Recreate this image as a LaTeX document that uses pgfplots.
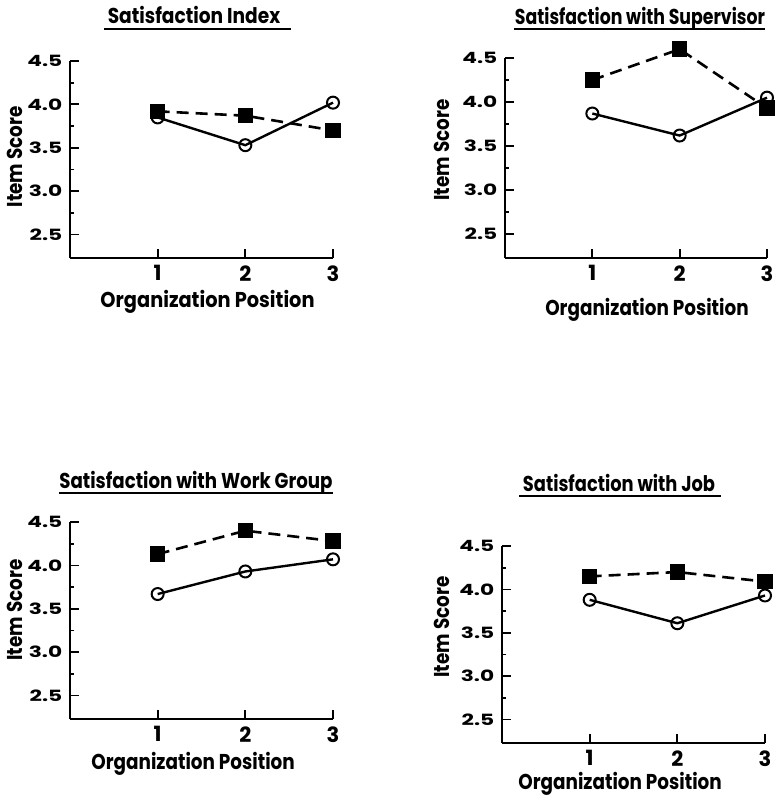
\documentclass[border=0pt]{standalone}
\usepackage{pgfplots}
\pgfplotsset{compat=1.18}
\usepackage{graphicx}
\usepackage{fontspec}
\setmainfont{Poppins}
\newcommand{\lab}[1]{\scalebox{0.855}[1]{#1}}
\pgfplotsset{
  panel/.style={
    scale only axis, width=263pt, height=197pt,
    xmin=0, xmax=3, ymin=2.23, ymax=4.5,
    axis lines=left, axis line style={line width=2.2pt,-},
    xtick={1,2,3}, ytick={2.5,3,3.5,4,4.5},
    minor ytick={2.75,3.25,3.75,4.25},
    tick align=inside,
    major tick length=9pt, minor tick length=4pt,
    every tick/.style={black, line width=1.8pt},
    clip=false,
    /pgf/number format/assume math mode=true,
    yticklabel style={/pgf/number format/fixed,/pgf/number format/fixed zerofill,/pgf/number format/precision=1,
      font=\bfseries\fontsize{15.5}{15.5}\selectfont, xscale=1.4, xshift=-2pt},
    xticklabel style={font=\bfseries\fontsize{21}{21}\selectfont, yshift=-4pt},
    label style={font=\bfseries\fontsize{21.5}{21.5}\selectfont},
    xlabel={\lab{Organization Position}}, ylabel={\lab{Item Score}},
  },
  solidser/.style={black, line width=2.4pt, mark=o, mark size=6pt, mark options={solid, fill=white, line width=2pt}},
  dashser/.style={black, line width=2.6pt, dash pattern=on 12pt off 7pt, mark=square*, mark size=6.5pt, mark options={solid}},
}
\begin{document}
\begin{tikzpicture}[x=1pt,y=1pt]
\path[use as bounding box] (0,0) rectangle (779,-801);
% Panel 1
\begin{axis}[panel, at={(70pt,-258pt)}, anchor=south west,
  xlabel={\scalebox{0.9}[1]{Organization Position}},
  xlabel style={at={(axis description cs:0.523,-0.22)}, anchor=center},
  ylabel style={at={(axis description cs:-0.208,0.513)}, anchor=center}]
\addplot[dashser] coordinates {(1,3.92) (2,3.87) (3,3.70)};
\addplot[solidser] coordinates {(1,3.85) (2,3.53) (3,4.02)};
\end{axis}
% Panel 2
\begin{axis}[panel, at={(505pt,-258pt)}, anchor=south west, height=200pt, width=262pt,
  xlabel style={at={(axis description cs:0.542,-0.26)}, anchor=center},
  ylabel style={at={(axis description cs:-0.24,0.54)}, anchor=center}]
\addplot[dashser] coordinates {(1,4.25) (2,4.60) (3,3.93)};
\addplot[solidser] coordinates {(1,3.87) (2,3.62) (3,4.05)};
\end{axis}
% Panel 3
\begin{axis}[panel, at={(70pt,-719pt)}, anchor=south west,
  xlabel style={at={(axis description cs:0.468,-0.228)}, anchor=center},
  ylabel style={at={(axis description cs:-0.209,0.553)}, anchor=center}]
\addplot[dashser] coordinates {(1,4.13) (2,4.40) (3,4.28)};
\addplot[solidser] coordinates {(1,3.67) (2,3.93) (3,4.07)};
\end{axis}
% Panel 4
\begin{axis}[panel, at={(502pt,-743pt)}, anchor=south west,
  xlabel style={at={(axis description cs:0.449,-0.208)}, anchor=center},
  ylabel style={at={(axis description cs:-0.228,0.589)}, anchor=center}]
\addplot[dashser] coordinates {(1,4.15) (2,4.20) (3,4.09)};
\addplot[solidser] coordinates {(1,3.88) (2,3.61) (3,3.93)};
\end{axis}
% Titles
\begin{scope}[every node/.style={font=\bfseries\fontsize{21.5}{21.5}\selectfont, anchor=base}]
\node at (194,-23) {\scalebox{0.865}[1]{Satisfaction Index}};
\node at (640,-24) {\scalebox{0.806}[1]{Satisfaction with Supervisor}};
\node at (196,-488) {\scalebox{0.847}[1]{Satisfaction with Work Group}};
\node at (619,-491) {\scalebox{0.83}[1]{Satisfaction with Job}};
\end{scope}
\begin{scope}[line width=1.8pt]
\draw (104,-29) -- (291,-29);
\draw (514,-29) -- (765,-29);
\draw (59,-493) -- (333,-493);
\draw (519,-496) -- (721,-496);
\end{scope}
\end{tikzpicture}
\end{document}
